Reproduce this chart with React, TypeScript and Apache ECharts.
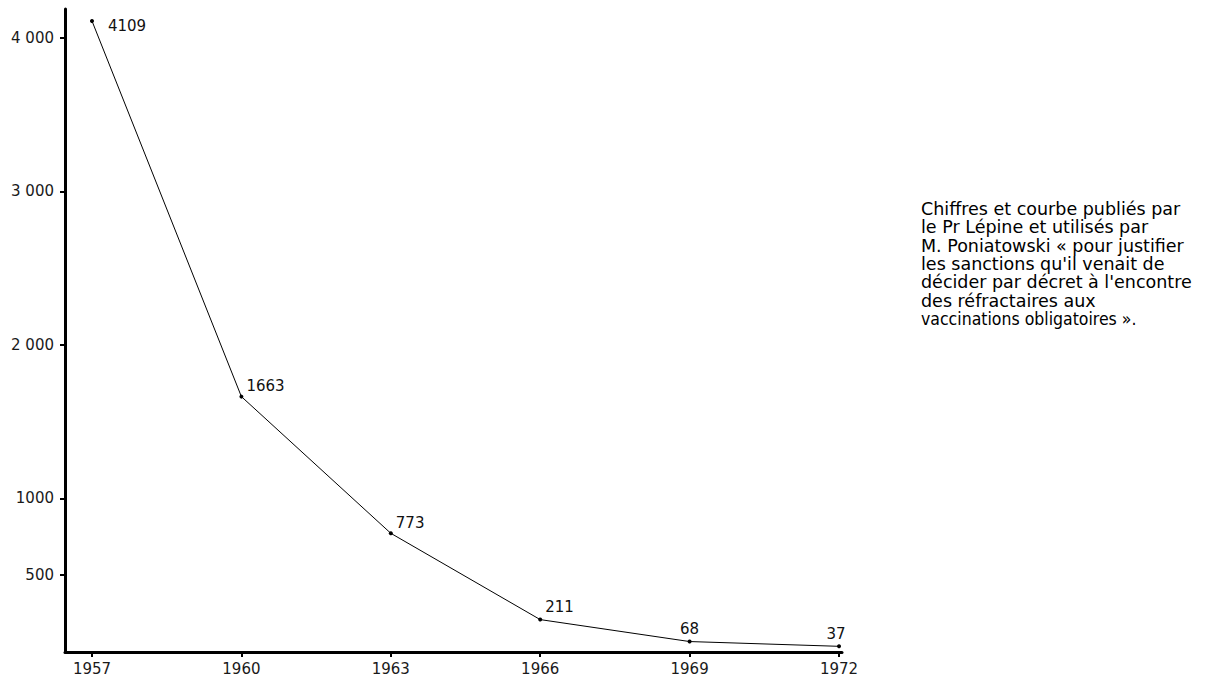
import React, { useEffect, useRef } from "react";
import * as echarts from "echarts";

const years = [1957, 1960, 1963, 1966, 1969, 1972];
const cases = [4109, 1663, 773, 211, 68, 37];
const yTickValues = [500, 1000, 2000, 3000, 4000];
const yTickLabels = ["500", "1000", "2 000", "3 000", "4 000"];
const xTickValues = [1957, 1960, 1963, 1966, 1969, 1972];
const noteLines = [
  "Chiffres et courbe publiés par",
  "le Pr Lépine et utilisés par",
  "M. Poniatowski « pour justifier",
  "les sanctions qu'il venait de",
  "décider par décret à l'encontre",
  "des réfractaires aux",
  "vaccinations obligatoires ».",
];

const labelFont = "'DejaVu Sans', Verdana, sans-serif";

const labelStyles: any[] = [
  { position: "right", distance: 11, offset: [3, 5] },
  { position: "top", align: "left", distance: 1, offset: [5, 0] },
  { position: "top", align: "left", distance: 1, offset: [5, 0] },
  { position: "top", align: "left", distance: 3, offset: [5, 0] },
  { position: "top", distance: 3, offset: [0, 0] },
  { position: "top", distance: 3, offset: [-3, 0] },
];

export default function App() {
  const ref = useRef<HTMLDivElement>(null);
  useEffect(() => {
    if (!ref.current) return;
    const chart = echarts.init(ref.current, null, { renderer: "svg" });
    const data = years.map((yr, i) => ({
      value: [yr, cases[i]],
      label: {
        show: true,
        formatter: String(cases[i]),
        fontSize: 15,
        fontFamily: labelFont,
        color: "#111",
        ...labelStyles[i],
      },
    }));
    const richText =
      noteLines.slice(0, noteLines.length - 1).join("\n") +
      "\n{n|" +
      noteLines[noteLines.length - 1] +
      "}";
    chart.setOption({
      animation: false,
      backgroundColor: "#fff",
      grid: { left: 65, right: 378, top: 9, bottom: 32, containLabel: false },
      xAxis: {
        type: "value",
        min: 1956.458,
        max: 1972.06,
        axisLine: { show: true, onZero: false, lineStyle: { color: "#000", width: 3 } },
        axisTick: {
          show: true,
          customValues: xTickValues,
          length: 5,
          lineStyle: { color: "#000", width: 2 },
        },
        axisLabel: {
          customValues: xTickValues,
          formatter: (v: number) => String(v),
          margin: 9,
          fontSize: 15,
          fontFamily: labelFont,
          color: "#1a1a1a",
        },
        splitLine: { show: false },
      },
      yAxis: {
        type: "value",
        min: 0,
        max: 4187,
        axisLine: { show: true, lineStyle: { color: "#000", width: 3 } },
        axisTick: {
          show: true,
          customValues: yTickValues,
          length: 5,
          lineStyle: { color: "#000", width: 2 },
        },
        axisLabel: {
          customValues: yTickValues,
          formatter: (v: number) => {
            const k = yTickValues.indexOf(v);
            return k >= 0 ? yTickLabels[k] : "";
          },
          margin: 11,
          fontSize: 15,
          fontFamily: labelFont,
          color: "#1a1a1a",
        },
        splitLine: { show: false },
      },
      series: [
        {
          type: "line",
          data,
          symbol: "circle",
          symbolSize: 4,
          itemStyle: { color: "#000" },
          lineStyle: { color: "#000", width: 1 },
        },
      ],
      graphic: [
        {
          type: "text",
          left: 921,
          top: 200,
          style: {
            text: richText,
            fontFamily: "'DejaVu Sans', Verdana, sans-serif",
            fontSize: 17.5,
            lineHeight: 18.3,
            fill: "#000",
            rich: {
              n: {
                fontFamily: "'DejaVu Sans Condensed', 'Liberation Sans', sans-serif",
                fontSize: 17.5,
                lineHeight: 18.3,
                fill: "#000",
              },
            },
          },
        },
      ],
    });
    return () => chart.dispose();
  }, []);
  return (
    <div
      ref={ref}
      style={{ position: "absolute", left: 0, top: 0, width: 1220, height: 684 }}
    />
  );
}
